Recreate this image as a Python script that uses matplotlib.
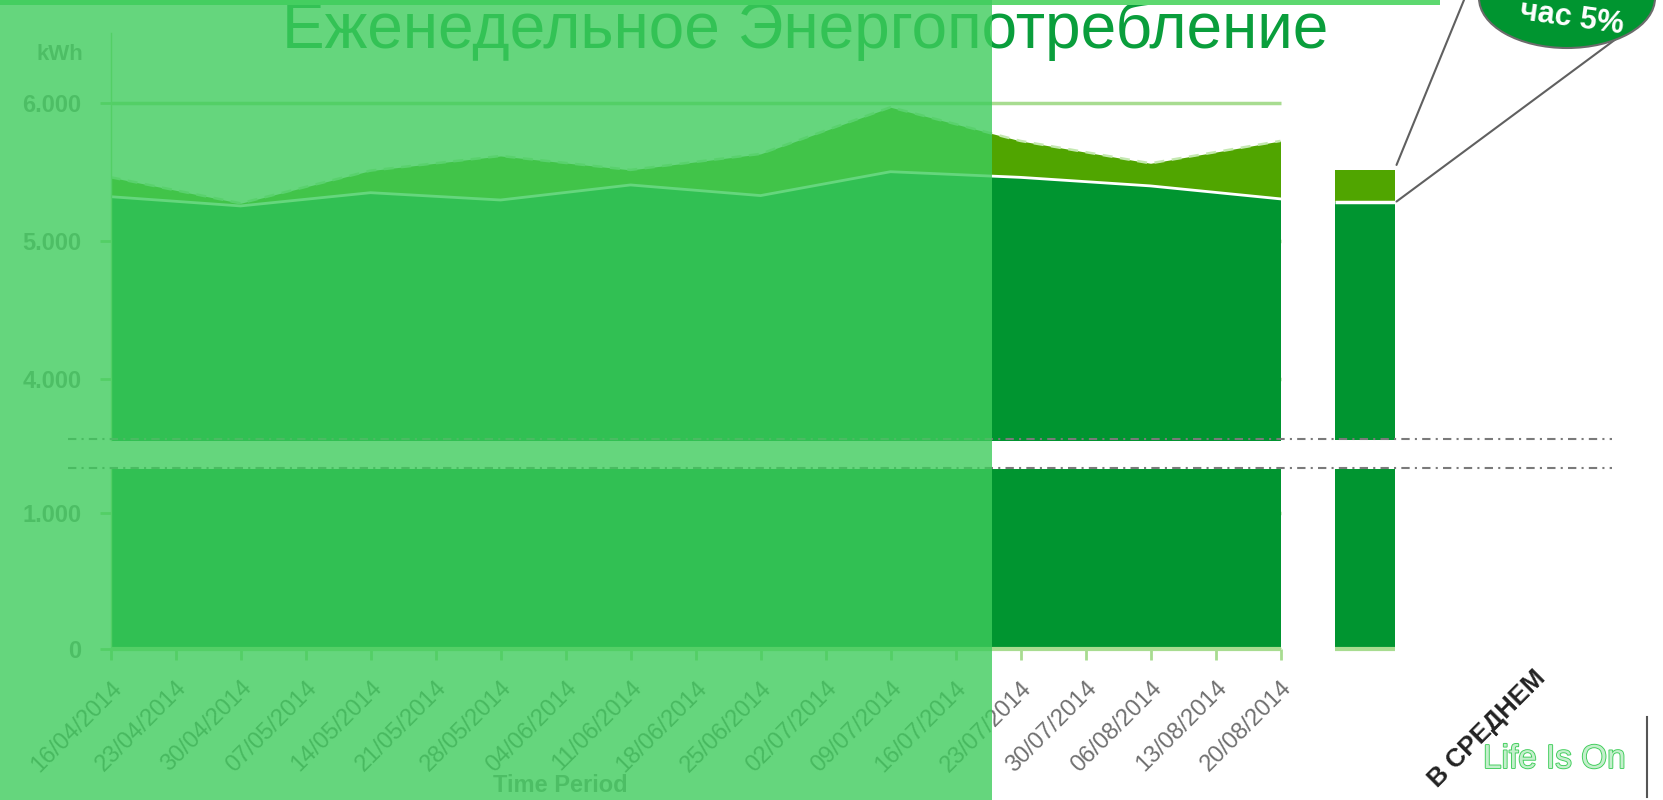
import matplotlib
matplotlib.use('Agg')
import matplotlib.pyplot as plt
from matplotlib.patches import Rectangle, Ellipse, ConnectionPatch
from matplotlib.lines import Line2D
import matplotlib.patheffects as pe

plt.rcParams['font.family'] = ['Liberation Sans', 'DejaVu Sans']

W, H = 1663, 800

# weekly tick labels
week_labels = ['16/04/2014', '23/04/2014', '30/04/2014', '07/05/2014', '14/05/2014',
               '21/05/2014', '28/05/2014', '04/06/2014', '11/06/2014', '18/06/2014',
               '25/06/2014', '02/07/2014', '09/07/2014', '16/07/2014', '23/07/2014',
               '30/07/2014', '06/08/2014', '13/08/2014', '20/08/2014']
# measured points (every second week)
data_dates = ['16/04/2014', '30/04/2014', '14/05/2014', '28/05/2014', '11/06/2014',
              '25/06/2014', '09/07/2014', '23/07/2014', '06/08/2014', '20/08/2014']
base_kwh = [5323, 5256, 5352, 5299, 5408, 5331, 5504, 5463, 5401, 5307]
total_kwh = [5464, 5275, 5512, 5618, 5517, 5633, 5971, 5727, 5565, 5727]
avg_base = 5283
avg_total = 5517
target_kwh = 6000

upper_ticks = [4000, 5000, 6000]
lower_ticks = [0, 1000]

c_base = '#009530'
c_extra = '#50a500'
c_axis = '#a8dc90'
c_grey = '#8a8a8a'

xi = [week_labels.index(d) for d in data_dates]
bar_x, bar_w = 19.3, 0.91


def fx(x):
    return x / W


def fy(y):
    return 1 - y / H


fig = plt.figure(figsize=(W / 100, H / 100), dpi=100)
fig.patch.set_facecolor('white')

left, right = 110.5, 1400
ax_top = fig.add_axes([fx(left), fy(440), fx(right) - fx(left), fy(33) - fy(440)])
ax_bot = fig.add_axes([fx(left), fy(649), fx(right) - fx(left), fy(469) - fy(649)])

for ax, lo, hi, ticks in [(ax_top, 3560, 6509, upper_ticks), (ax_bot, 0, 1324, lower_ticks)]:
    ax.set_facecolor('none')
    ax.set_xlim(0, (right - left) / 65)
    ax.set_ylim(lo, hi)
    for s in ['top', 'right', 'bottom']:
        ax.spines[s].set_visible(False)
    ax.spines['left'].set_color(c_axis)
    ax.spines['left'].set_linewidth(1)
    ax.spines['left'].set_bounds(lo, hi)
    ax.set_yticks(ticks)
    ax.set_yticklabels([f"{v:,}".replace(',', '.') for v in ticks],
                       fontweight='bold')
    ax.tick_params(axis='y', length=8, width=2, color=c_axis, pad=13,
                   labelsize=17, labelcolor=c_grey)
    # grid lines only over the weekly range
    ax.hlines(ticks, 0, len(week_labels) - 1, color=c_axis, lw=2.5, zorder=0)

    ax.fill_between(xi, 0, base_kwh, color=c_base, lw=0, zorder=1)
    ax.fill_between(xi, base_kwh, total_kwh, color=c_extra, lw=0, zorder=1)
    ax.plot(xi, base_kwh, color='white', lw=2, zorder=2)
    ax.plot(xi, total_kwh, color='#c4e8b0', lw=1.8, ls=(0, (4, 3)), zorder=2)

    # average bar
    ax.bar(bar_x, avg_base, width=bar_w, color=c_base, lw=0, zorder=1)
    ax.bar(bar_x, avg_total - avg_base, bottom=avg_base, width=bar_w,
           color=c_extra, lw=0, zorder=1)
    ax.hlines(avg_base, bar_x - bar_w / 2, bar_x + bar_w / 2, color='white', lw=2.5, zorder=2)

ax_top.set_xticks([])
ax_bot.set_xticks(range(len(week_labels)))
ax_bot.set_xticklabels(week_labels, rotation=45, ha='right', rotation_mode='anchor')
ax_bot.tick_params(axis='x', length=8, width=2, color=c_axis, pad=12,
                   labelsize=17, labelcolor='#707070')
ax_bot.hlines(0, 0, len(week_labels) - 1, color=c_axis, lw=3, clip_on=False, zorder=3)
ax_bot.hlines(0, bar_x - bar_w / 2, bar_x + bar_w / 2, color=c_axis, lw=3,
              clip_on=False, zorder=3)

# broken axis markers
for yb in [438.7, 467.7]:
    fig.add_artist(Line2D([fx(68), fx(1612)], [fy(yb), fy(yb)], color='#7a7a7a',
                          lw=1.5, dashes=(4, 2.5, 1, 2.5), zorder=4))

# texts
fig.text(fx(805), fy(48), 'Еженедельное Энергопотребление', fontsize=46,
         color='#0a9e3c', ha='center', va='baseline', zorder=4)
fig.text(fx(83), fy(55), 'kWh', fontsize=16, fontweight='bold', color=c_grey,
         ha='right', va='center', zorder=4)
fig.text(fx(560), fy(786), 'Time Period', fontsize=17, fontweight='bold',
         color=c_grey, ha='center', va='center', zorder=4)

# top accent bar
fig.add_artist(Rectangle((0, fy(4.5)), fx(1440), 4.5 / H, transform=fig.transFigure,
                         color='#5dd870', lw=0, zorder=9))

# semi transparent overlay on the left part
fig.add_artist(Rectangle((0, 0), fx(992), 1, transform=fig.transFigure,
                         color=(62 / 255, 204 / 255, 92 / 255), alpha=0.8, lw=0, zorder=10))

# callout bubble
fig.add_artist(Ellipse((fx(1567), fy(-2)), 176 / W, 100 / H, transform=fig.transFigure,
                       fc=c_base, ec='#6b6b6b', lw=1.5, zorder=12))
fig.text(fx(1571), fy(26), 'час 5%', fontsize=22, fontweight='bold', color='white',
         rotation=-8, ha='center', va='baseline', rotation_mode='anchor', zorder=13)
for ya, pb in [(avg_total + 36, (1464, 0)), (avg_base + 5, (1620, 36))]:
    con = ConnectionPatch(xyA=(bar_x + bar_w / 2 + 0.03, ya), coordsA=ax_top.transData,
                          xyB=(fx(pb[0]), fy(pb[1])), coordsB=fig.transFigure,
                          color='#606060', lw=1.5, zorder=11)
    fig.add_artist(con)

fig.text(fx(1487), fy(729), 'В СРЕДНЕМ', fontsize=18.5, fontweight='bold', color='#222222',
         rotation=45, ha='center', va='center', rotation_mode='anchor', zorder=12)
fig.text(fx(1483), fy(768), 'Life Is On', fontsize=24, color='#c4efcc', ha='left',
         va='baseline', zorder=12,
         path_effects=[pe.withStroke(linewidth=1.3, foreground='#3dcd58')])
fig.add_artist(Line2D([fx(1647), fx(1647)], [fy(717), fy(797)], color='#555555',
                      lw=1.5, zorder=12))

fig.savefig('out.png', dpi=100)
